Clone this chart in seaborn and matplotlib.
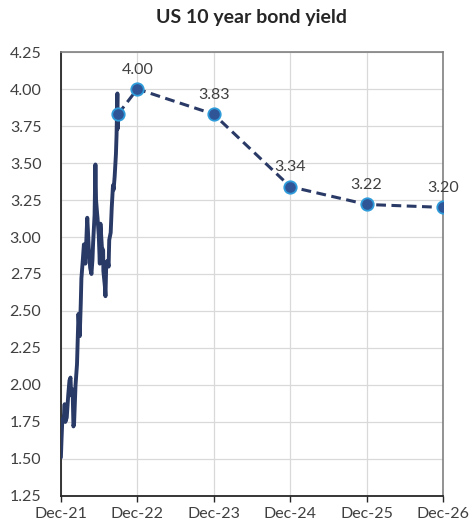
import matplotlib
matplotlib.use("Agg")
import matplotlib.pyplot as plt
import matplotlib.dates as mdates
import numpy as np
import pandas as pd
import seaborn as sns

# Observed 10-year Treasury yield, 2022 (%)
hist_dates = [
    "2021-12-31", "2022-01-03", "2022-01-07", "2022-01-14", "2022-01-18", "2022-01-21",
    "2022-01-28", "2022-02-04", "2022-02-10", "2022-02-15", "2022-02-18", "2022-02-25",
    "2022-03-01", "2022-03-04", "2022-03-11", "2022-03-18", "2022-03-25", "2022-03-31",
    "2022-04-05", "2022-04-08", "2022-04-14", "2022-04-20", "2022-04-22", "2022-04-27",
    "2022-04-29", "2022-05-06", "2022-05-09", "2022-05-13", "2022-05-20", "2022-05-26",
    "2022-05-31", "2022-06-03", "2022-06-10", "2022-06-14", "2022-06-17", "2022-06-22",
    "2022-06-24", "2022-06-30", "2022-07-05", "2022-07-08", "2022-07-15", "2022-07-21",
    "2022-07-22", "2022-07-29", "2022-08-01", "2022-08-05", "2022-08-12", "2022-08-16",
    "2022-08-19", "2022-08-26", "2022-08-31", "2022-09-06", "2022-09-09", "2022-09-14",
    "2022-09-20", "2022-09-23", "2022-09-27", "2022-09-28", "2022-09-30",
]
hist_yield = [
    1.51, 1.63, 1.77, 1.78, 1.87, 1.75,
    1.78, 1.93, 2.03, 2.05, 1.93, 1.97,
    1.72, 1.74, 2.00, 2.14, 2.48, 2.33,
    2.55, 2.72, 2.83, 2.95, 2.90, 2.82,
    2.89, 3.13, 3.05, 2.93, 2.79, 2.75,
    2.85, 2.96, 3.15, 3.49, 3.25, 3.16,
    3.13, 3.01, 2.82, 3.09, 2.93, 2.91,
    2.77, 2.67, 2.60, 2.83, 2.84, 2.80,
    2.98, 3.03, 3.20, 3.35, 3.32, 3.41,
    3.56, 3.69, 3.97, 3.73, 3.83,
]

# Forecast path (year-end values)
fc_dates = ["2022-09-30", "2022-12-31", "2023-12-31", "2024-12-31", "2025-12-31", "2026-12-31"]
fc_yield = [3.83, 4.00, 3.83, 3.34, 3.22, 3.20]
fc_labels = ["", "4.00", "3.83", "3.34", "3.22", "3.20"]

tick_dates = ["2021-12-31", "2022-12-31", "2023-12-31", "2024-12-31", "2025-12-31", "2026-12-31"]
y_ticks = [1.25, 1.50, 1.75, 2.00, 2.25, 2.50, 2.75, 3.00, 3.25, 3.50, 3.75, 4.00, 4.25]

hist = pd.DataFrame({"date": pd.to_datetime(hist_dates), "yield": hist_yield})
fc = pd.DataFrame({"date": pd.to_datetime(fc_dates), "yield": fc_yield})

sns.set_theme(style="white")
plt.rcParams["font.family"] = ["Lato", "DejaVu Sans"]

navy = "#2A3A66"
fig = plt.figure(figsize=(4.72, 5.31), dpi=100)
ax = fig.add_axes([0.129, 0.066, 0.8096, 0.836])

sns.lineplot(data=fc, x="date", y="yield", ax=ax, color=navy, lw=2.2,
             linestyle=(0, (3.2, 1.8)), zorder=3)
sns.lineplot(data=hist, x="date", y="yield", ax=ax, color=navy, lw=2.8, zorder=4)
sns.scatterplot(data=fc, x="date", y="yield", ax=ax, s=80, color="#2F5597",
                edgecolor="#2E9BDA", linewidth=1.3, zorder=5)

for d, v, lab in zip(fc["date"], fc["yield"], fc_labels):
    if lab:
        ax.annotate(lab, (d, v), xytext=(0, 9), textcoords="offset points",
                    ha="center", va="bottom", fontsize=11.5, color="#404040")

ax.set_xlim(pd.Timestamp(tick_dates[0]), pd.Timestamp(tick_dates[-1]))
ax.set_ylim(1.25, 4.25)
ax.set_yticks(y_ticks)
ax.set_yticklabels([f"{t:.2f}" for t in y_ticks])
ax.set_xticks(pd.to_datetime(tick_dates))
ax.xaxis.set_major_formatter(mdates.DateFormatter("%b-%y"))
ax.set_xlabel("")
ax.set_ylabel("")
ax.grid(True, color="#D9D9D9", lw=0.9)
ax.set_axisbelow(True)

for side in ["left", "bottom"]:
    ax.spines[side].set_color("#262626")
    ax.spines[side].set_linewidth(1.3)
for side in ["top", "right"]:
    ax.spines[side].set_color("#808080")
    ax.spines[side].set_linewidth(1.2)

ax.tick_params(axis="x", direction="out", length=4, width=1, color="#262626",
               labelsize=11.5, labelcolor="#404040", pad=4)
ax.tick_params(axis="y", length=0, labelsize=11.5, labelcolor="#404040", pad=14)
ax.tick_params(axis="x", bottom=True)

ax.set_title("US 10 year bond yield", fontsize=14, fontweight="bold",
             color="#262626", pad=21)

fig.savefig("out.png", dpi=100)
